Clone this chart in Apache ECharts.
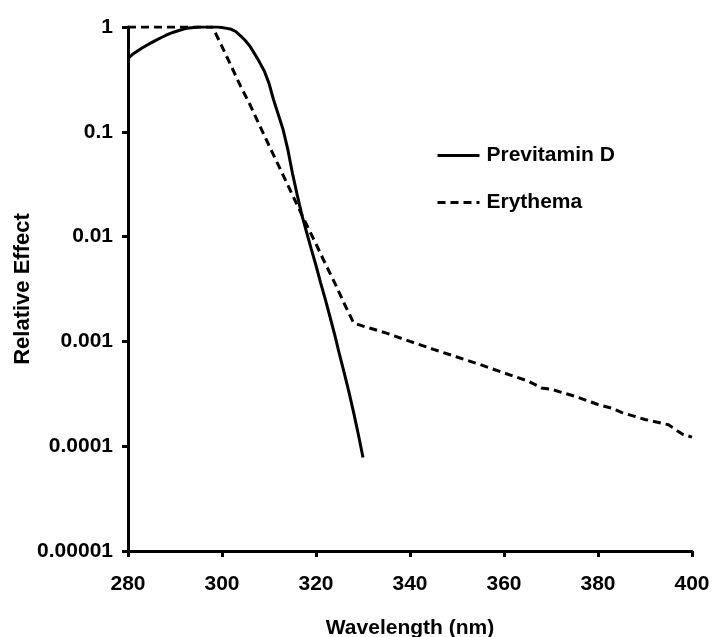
<!DOCTYPE html>
<html>
<head>
<meta charset="utf-8">
<script src="https://cdn.jsdelivr.net/npm/echarts@6/dist/echarts.min.js"></script>
<style>
html,body{margin:0;padding:0;background:#fff;}
#chart{width:713px;height:637px;}
</style>
</head>
<body>
<div id="chart"></div>
<script>
// Tick labels
const yTickLabels = ["1", "0.1", "0.01", "0.001", "0.0001", "0.00001"];
const xTicks = [280, 300, 320, 340, 360, 380, 400];

// Previtamin D action spectrum
const previtaminWl = [280,281,282,283,284,285,286,287,288,289,290,291,292,293,294,295,296,297,298,299,300,301,302,303,304,305,306,307,308,309,310,311,312,313,314,315,316,317,318,319,320,321,322,323,324,325,326,327,328,329,330];
const previtaminVal = [0.50,0.55,0.59,0.63,0.67,0.71,0.75,0.79,0.83,0.87,0.90,0.93,0.96,0.98,0.99,1.0,1.0,1.0,1.0,1.0,0.99,0.97,0.95,0.90,0.82,0.74,0.65,0.55,0.46,0.38,0.29,0.20,0.145,0.105,0.068,0.040,0.025,0.016,0.011,0.0076,0.0053,0.0036,0.0025,0.0017,0.00115,0.00075,0.00050,0.00033,0.00021,0.00013,0.000078];

// Erythema action spectrum
const erythemaWl = [280,298,300,302,304,306,308,310,312,314,316,318,320,322,324,326,328,330,335,340,345,350,355,360,365,368,370,375,380,383,385,390,395,398,400];
const erythemaVal = [1,1,0.65,0.42,0.27,0.18,0.115,0.074,0.048,0.031,0.020,0.013,0.0085,0.0055,0.0036,0.0023,0.0015,0.0014,0.0012,0.0010,0.00084,0.00071,0.00060,0.00050,0.00042,0.00036,0.00035,0.00030,0.00025,0.00023,0.00021,0.00018,0.00016,0.00013,0.000122];

const pair = (xs, ys) => xs.map((x, i) => [x, ys[i]]);
const FONT = '"Liberation Sans", Arial, sans-serif';

const chart = echarts.init(document.getElementById('chart'), null, {renderer: 'canvas'});
chart.setOption({
  animation: false,
  backgroundColor: '#fff',
  grid: {left: 128, right: 21, top: 27, bottom: 86, containLabel: false, outerBoundsMode: 'none'},
  legend: {
    orient: 'vertical',
    left: 431,
    top: 140,
    itemWidth: 42,
    itemHeight: 14,
    itemGap: 26,
    itemStyle: {opacity: 0},
    lineStyle: {width: 3},
    textStyle: {fontFamily: FONT, fontWeight: 'bold', fontSize: 21, color: '#000', padding: [0, 0, 0, 2]},
    data: ['Previtamin D', 'Erythema']
  },
  xAxis: {
    type: 'value',
    min: 280, max: 400, interval: 20,
    name: 'Wavelength (nm)',
    nameLocation: 'middle',
    nameGap: 67,
    nameMoveOverlap: false,
    nameTextStyle: {fontFamily: FONT, fontWeight: 'bold', fontSize: 21, color: '#000'},
    axisLine: {show: true, onZero: false, lineStyle: {color: '#000', width: 3}},
    axisTick: {show: true, inside: false, length: 6, lineStyle: {color: '#000', width: 3}},
    axisLabel: {fontFamily: FONT, fontWeight: 'bold', fontSize: 21, color: '#000', margin: 23,
      formatter: v => xTicks.includes(v) ? String(v) : ''},
    splitLine: {show: false}
  },
  yAxis: {
    type: 'log',
    logBase: 10,
    min: 0.00001, max: 1,
    name: 'Relative Effect',
    nameLocation: 'middle',
    nameGap: 94,
    nameRotate: 90,
    nameMoveOverlap: false,
    nameTextStyle: {fontFamily: FONT, fontWeight: 'bold', fontSize: 22, color: '#000'},
    axisLine: {show: true, lineStyle: {color: '#000', width: 3}},
    axisTick: {show: true, inside: false, length: 6, lineStyle: {color: '#000', width: 3}},
    axisLabel: {fontFamily: FONT, fontWeight: 'bold', fontSize: 21, color: '#000', margin: 15,
      formatter: v => {
        const k = Math.round(-Math.log10(v));
        return yTickLabels[k] !== undefined ? yTickLabels[k] : '';
      }},
    splitLine: {show: false}
  },
  series: [
    {
      name: 'Previtamin D',
      type: 'line',
      data: pair(previtaminWl, previtaminVal),
      showSymbol: false,
      symbol: 'none',
      lineStyle: {color: '#000', width: 3, type: 'solid'},
      itemStyle: {color: '#000'}
    },
    {
      name: 'Erythema',
      type: 'line',
      data: pair(erythemaWl, erythemaVal),
      showSymbol: false,
      symbol: 'none',
      lineStyle: {color: '#000', width: 3, type: [8, 5]},
      itemStyle: {color: '#000'}
    }
  ]
});
</script>
</body>
</html>
